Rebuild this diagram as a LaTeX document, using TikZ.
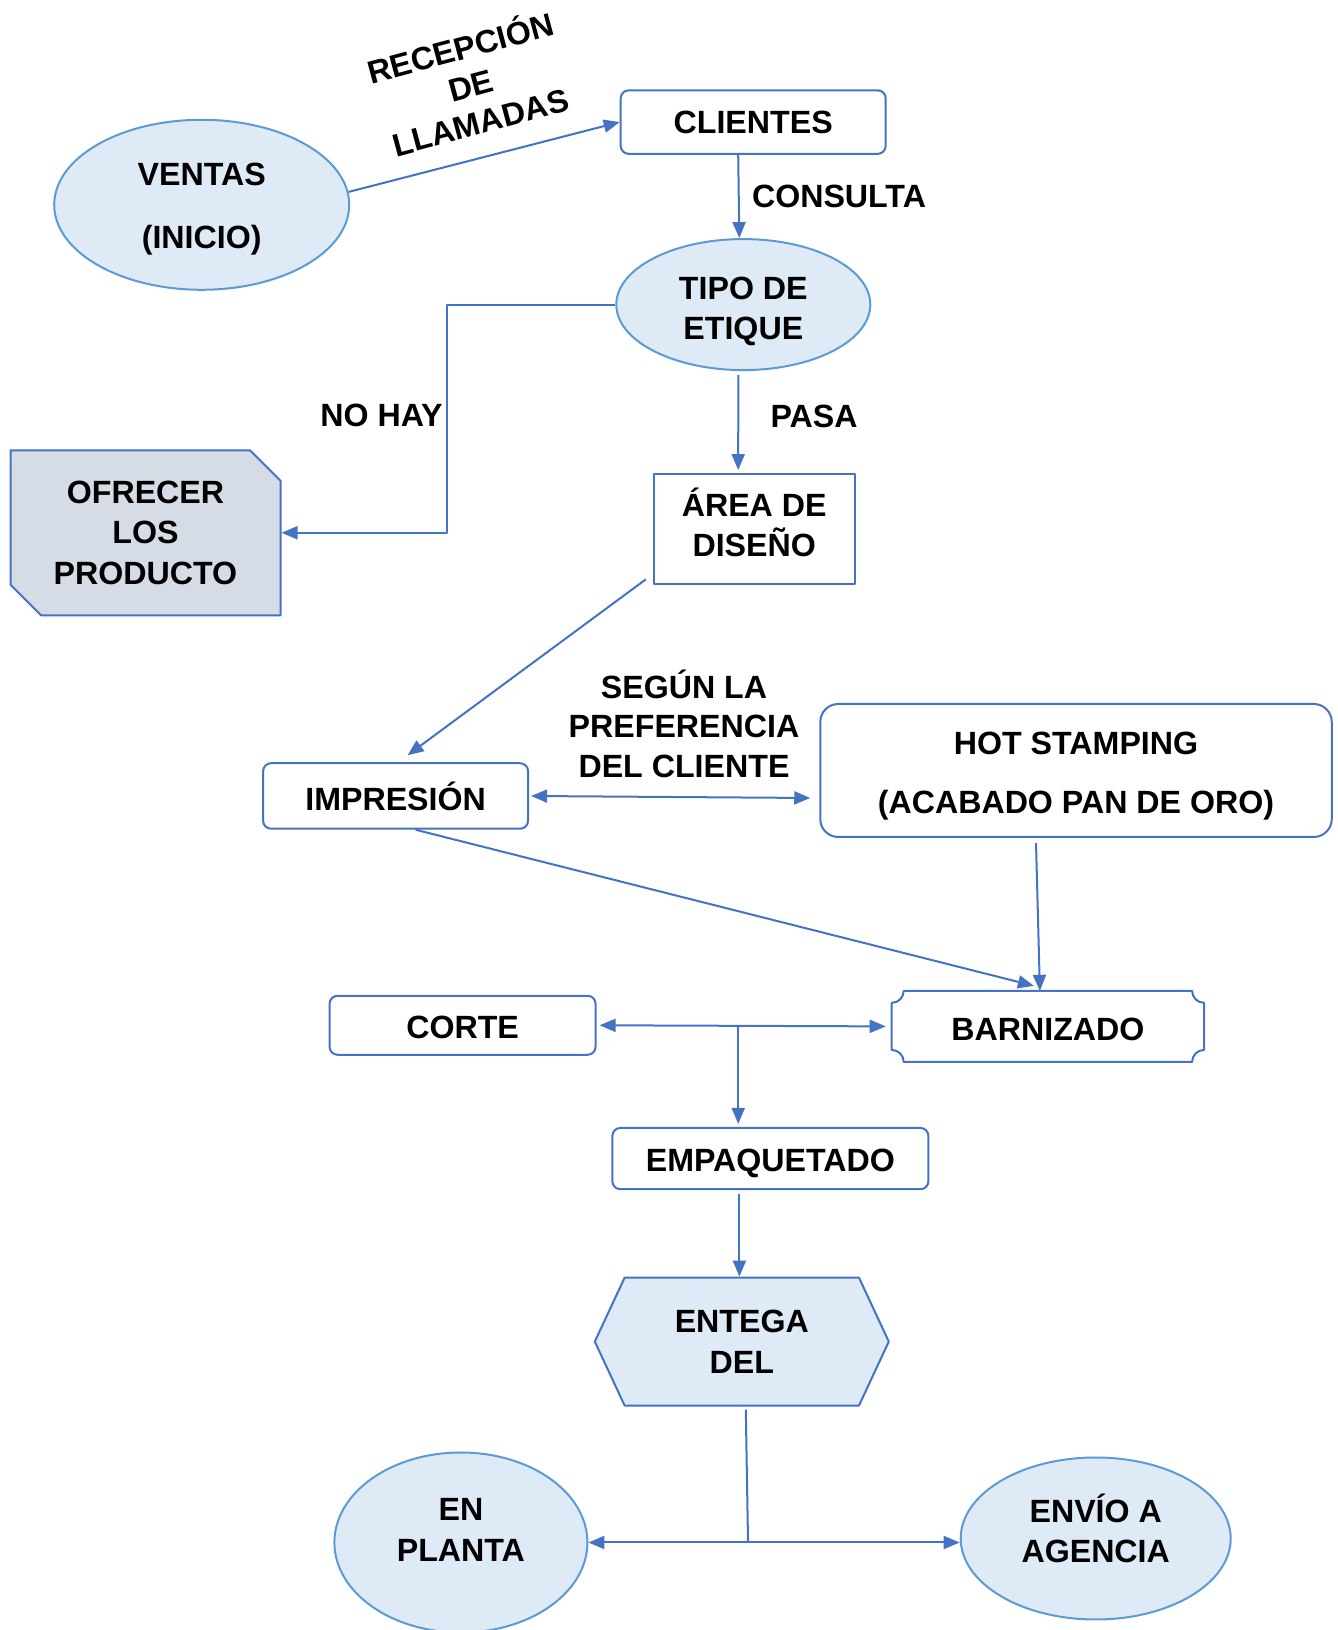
\documentclass[tikz,border=0pt]{standalone}
\usepackage{fontspec}
\setmainfont{Liberation Sans}
\usepackage{tikz}
\usetikzlibrary{arrows.meta}
\usetikzlibrary{shapes.geometric, shapes.misc, shapes.symbols, calc}

\definecolor{lineblue}{HTML}{4472C4}
\definecolor{edgeblue}{HTML}{5B9BD5}
\definecolor{paleblue}{HTML}{DEEBF7}
\definecolor{greyblue}{HTML}{D6DCE5}

\begin{document}
\begin{tikzpicture}[>={Triangle[length=16bp,width=13bp]},line join=bevel,
  font=\fontsize{32.3}{40.5}\selectfont\bfseries,
  every node/.style={align=center,inner sep=0bp},
  link/.style={draw=lineblue,line width=2bp},
  oval/.style={ellipse,draw=edgeblue,fill=paleblue,line width=2bp},
  box/.style={rectangle,draw=lineblue,line width=2bp},
  rbox/.style={box,rounded corners=8bp},
]
\useasboundingbox (0bp,0bp) rectangle (1338bp,1630bp);
%%
\node (ventas) at (201.7bp,1425.2bp) [oval,minimum width=295bp,minimum height=170bp] {\rule{0pt}{31bp}VENTAS\\[22bp](INICIO)};
  \node (clientes) at (753.2bp,1507.9bp) [rbox,minimum width=265bp,minimum height=63.5bp] {CLIENTES};
  \node (tipo) at (743.3bp,1325.4bp) [oval,minimum width=254bp,minimum height=131bp] {\rule{0pt}{36bp}TIPO DE\\ETIQUE};
  \node (ofrecer) at (145.5bp,1097.2bp) [chamfered rectangle,chamfered rectangle corners={north east,south west},chamfered rectangle xsep=27bp,draw=lineblue,fill=greyblue,line width=2bp,minimum width=270bp,minimum height=165bp] {OFRECER\\LOS\\PRODUCTO};
  \node (area) at (754.2bp,1100.8bp) [box,minimum width=200.6bp,minimum height=110.2bp] {ÁREA DE\\DISEÑO\rule[-14bp]{0pt}{14bp}};
  \node (impresion) at (395.6bp,834bp) [rbox,minimum width=265bp,minimum height=65.5bp] {IMPRESIÓN};
  \node (hot) at (1076bp,859.5bp) [box,rounded corners=18bp,minimum width=511.5bp,minimum height=133bp] {\rule{0pt}{34bp}HOT STAMPING\\[19bp](ACABADO PAN DE ORO)};
  \node (barnizado) at (1047.9bp,603.6bp) [minimum width=312bp,minimum height=70.7bp] {\rule{0pt}{29bp}BARNIZADO};
  \node (corte) at (462.6bp,604.7bp) [rbox,minimum width=266bp,minimum height=59bp] {\rule{0pt}{27bp}CORTE};
  \node (empaq) at (770.4bp,471.4bp) [rbox,minimum width=316bp,minimum height=61.3bp] {\rule{0pt}{33bp}EMPAQUETADO};
  \node (entega) at (741.8bp,288.4bp) [signal,signal to=west and east,signal pointer angle=130,draw=lineblue,fill=paleblue,line width=2bp,minimum width=294bp,minimum height=128bp] {ENTEGA\\DEL};
  \node (planta) at (460.9bp,87.5bp) [oval,minimum width=253bp,minimum height=180bp] {EN\\PLANTA\rule[-25bp]{0pt}{25bp}};
  \node (envio) at (1095.7bp,91.5bp) [oval,minimum width=270bp,minimum height=162bp] {ENVÍO A\\AGENCIA\rule[-20bp]{0pt}{20bp}};
%% labels
  \node (recepcion) at (470bp,1547bp) [rotate=15] {RECEPCIÓN\\[-2bp]DE\\[-2bp]LLAMADAS};
  \node (consulta) at (839bp,1433.5bp) {CONSULTA};
  \node (nohay) at (381.5bp,1214.2bp) {NO HAY};
  \node (pasa) at (814bp,1213.1bp) {PASA};
  \node (segun) at (684bp,906.4bp) {SEGÚN LA\\[-1bp]PREFERENCIA\\[-1bp]DEL CLIENTE};
%% plaque outline
  \draw [draw=lineblue,line width=2bp] ([xshift=12bp]barnizado.north west) -- ([xshift=-12bp]barnizado.north east)
    arc[start angle=180,end angle=270,radius=12bp] -- ([yshift=12bp]barnizado.south east)
    arc[start angle=90,end angle=180,radius=12bp] -- ([xshift=12bp]barnizado.south west)
    arc[start angle=0,end angle=90,radius=12bp] -- ([yshift=-12bp]barnizado.north west)
    arc[start angle=270,end angle=360,radius=12bp] -- cycle;
%% connectors
  \coordinate (split) at ($(corte.east)!0.48!(barnizado.west)$);
  \coordinate (fork) at (748bp,89bp);
  \draw [link,->] (ventas.5) -- (clientes.west);
  \draw [link,->] ([xshift=-15bp]clientes.south) -- ([xshift=-4bp]tipo.north);
  \draw [link,->] (tipo.west) -- ++(-168bp,0bp) |- (ofrecer.east);
  \draw [link,->] ([xshift=-5bp,yshift=-4bp]tipo.south) -- ([xshift=-16bp,yshift=3bp]area.north);
  \draw [link,->] ([xshift=-7bp,yshift=6bp]area.south west) -- ([xshift=12bp,yshift=7bp]impresion.north);
  \draw [link,<->] ([xshift=2bp]impresion.east) -- ([xshift=-9bp,yshift=-2bp]impresion.east -| hot.west);
  \draw [link,->] ([xshift=20bp]impresion.south) -- ([xshift=-14bp,yshift=5bp]barnizado.north);
  \draw [link,->] ([xshift=-40bp,yshift=-5bp]hot.south) -- ([xshift=-8bp]barnizado.north);
  \draw [link,<->] ([xshift=3bp]corte.east) -- ([xshift=-6bp]barnizado.west);
  \draw [link,->] (split) -- ([yshift=3bp]split |- empaq.north);
  \draw [link,->] ([xshift=-31bp,yshift=-4bp]empaq.south) -- ([xshift=-31bp]empaq.south |- entega.north);
  \draw [link] ([xshift=4bp,yshift=-3bp]entega.south) -- (fork);
  \draw [link,<->] (planta.east) -- (planta.east -| envio.west);
%
\end{tikzpicture}
\end{document}
